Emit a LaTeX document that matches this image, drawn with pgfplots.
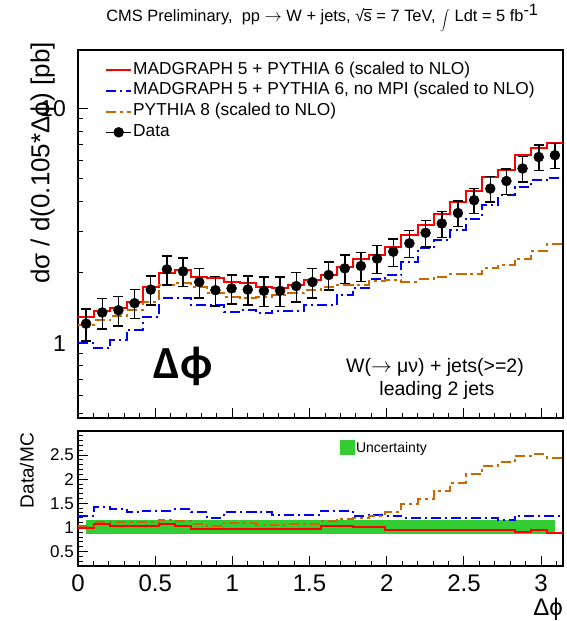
\documentclass[border=0pt]{standalone}
\usepackage{pgfplots}
\pgfplotsset{compat=1.18}
\usepackage{fontspec}
\setmainfont{Liberation Sans}
\newfontfamily\calib{Carlito}
\definecolor{rootorange}{RGB}{204,102,0}
\definecolor{rootgreen}{RGB}{51,204,51}
\definecolor{rootblue}{RGB}{0,0,255}
\definecolor{rootred}{RGB}{255,0,0}
\begin{document}
\begin{tikzpicture}[x=1pt,y=1pt]
\path[use as bounding box] (0,0) rectangle (566,-621);
\node[font=\fontsize{16.4}{16.4}\selectfont, inner sep=0pt, anchor=base] at (322.5,-21.5) {CMS Preliminary,\ \ pp $\rightarrow$ W + jets, √\kern-0.6pt\rlap{\raisebox{11.2pt}{\rule{8pt}{0.8pt}}}s = 7 TeV, \raisebox{-1pt}{\fontsize{8}{8}\selectfont$\displaystyle\int$} Ldt = 5 fb$^{\mbox{-1}}$};
\begin{axis}[
  at={(78pt,-50pt)}, anchor=north west,
  scale only axis, width=485pt, height=368pt,
  ymode=log, xmin=0, xmax=3.14159, ymin=0.48, ymax=17.7,
  xtick={0,0.5,1,1.5,2,2.5,3}, xticklabels={},
  minor xtick={0.1,0.2,0.3,0.4,0.6,0.7,0.8,0.9,1.1,1.2,1.3,1.4,1.6,1.7,1.8,1.9,2.1,2.2,2.3,2.4,2.6,2.7,2.8,2.9,3.1},
  ytick={1,10}, yticklabels={1,10},
  minor ytick={0.5,0.6,0.7,0.8,0.9,2,3,4,5,6,7,8,9},
  tick pos=left, tick align=inside,
  major tick length=10pt, minor tick length=5pt,
  every tick/.style={black, line width=1pt},
  axis line style={line width=1.3pt, black},
  /pgf/number format/assume math mode=true,
  yticklabel style={font=\fontsize{23}{23}\selectfont, inner sep=0pt, xshift=-12pt},
  ylabel={dσ / d(0.105*Δϕ) [pb]},
  ylabel style={font=\fontsize{26}{26}\selectfont, inner sep=0pt, at={(rel axis cs:-0.0474,1.0217)}, anchor=south east},
  legend style={draw=none, fill=none, at={(rel axis cs:0,1)}, anchor=north west, xshift=27pt, yshift=-11pt, inner sep=0pt, row sep=2.7pt,
    font=\fontsize{17.3}{17.3}\selectfont, nodes={inner sep=1pt, text height=12pt, text depth=4pt}},
  legend cell align=left,
  legend image code/.code={\draw[#1] (0pt,0pt) -- (25pt,0pt);},
  legend image post style={xshift=-3pt},
]
\addplot[const plot mark left, rootred, line width=2pt] coordinates {(0,1.29) (0.1047,1.37) (0.2094,1.405) (0.3142,1.50) (0.4189,1.74) (0.5236,1.98) (0.6283,2.04) (0.7330,1.92) (0.8378,1.885) (0.9425,1.82) (1.0472,1.80) (1.1519,1.74) (1.2566,1.72) (1.3614,1.76) (1.4661,1.85) (1.5708,1.95) (1.6755,2.11) (1.7802,2.29) (1.8850,2.37) (1.9897,2.57) (2.0944,2.90) (2.1991,3.18) (2.3038,3.53) (2.4086,3.99) (2.5133,4.45) (2.6180,5.08) (2.7227,5.48) (2.8274,6.31) (2.9322,6.80) (3.0369,7.10) (3.1416,7.10)};
\addlegendentry{MADGRAPH 5 + PYTHIA 6 (scaled to NLO)}
\addplot[const plot mark left, rootblue, line width=2pt, dash pattern=on 10pt off 4pt on 2pt off 4pt] coordinates {(0,1.0) (0.1047,0.95) (0.2094,1.03) (0.3142,1.14) (0.4189,1.29) (0.5236,1.55) (0.6283,1.55) (0.7330,1.45) (0.8378,1.45) (0.9425,1.36) (1.0472,1.38) (1.1519,1.34) (1.2566,1.37) (1.3614,1.37) (1.4661,1.45) (1.5708,1.45) (1.6755,1.60) (1.7802,1.71) (1.8850,1.87) (1.9897,1.95) (2.0944,2.22) (2.1991,2.53) (2.3038,2.74) (2.4086,3.03) (2.5133,3.39) (2.6180,3.87) (2.7227,4.26) (2.8274,4.63) (2.9322,4.94) (3.0369,5.07) (3.1416,5.07)};
\addlegendentry{MADGRAPH 5 + PYTHIA 6, no MPI (scaled to NLO)}
\addplot[const plot mark left, rootorange, line width=2pt, dash pattern=on 10pt off 4pt on 3pt off 4pt] coordinates {(0,1.20) (0.1047,1.25) (0.2094,1.30) (0.3142,1.38) (0.4189,1.50) (0.5236,1.76) (0.6283,1.81) (0.7330,1.74) (0.8378,1.63) (0.9425,1.57) (1.0472,1.55) (1.1519,1.57) (1.2566,1.60) (1.3614,1.64) (1.4661,1.68) (1.5708,1.73) (1.6755,1.76) (1.7802,1.76) (1.8850,1.84) (1.9897,1.85) (2.0944,1.83) (2.1991,1.87) (2.3038,1.92) (2.4086,1.96) (2.5133,1.96) (2.6180,2.08) (2.7227,2.16) (2.8274,2.29) (2.9322,2.46) (3.0369,2.63) (3.1416,2.63)};
\addlegendentry{PYTHIA 8 (scaled to NLO)}
\addplot[only marks, mark=*, mark size=5pt, black,
  error bars/.cd, y dir=both, y explicit,
  error bar style={line width=1.5pt, black},
  error mark options={rotate=90, black, mark size=5pt, line width=1.5pt},
  /pgfplots/legend image code/.code={\draw[black, line width=1.5pt] (0pt,0pt) -- (25pt,0pt); \fill[black] (12.5pt,0pt) circle (5pt);}]
coordinates {(0.0524,1.21) +- (0,0.19) (0.1571,1.35) +- (0,0.20) (0.2618,1.38) +- (0,0.20) (0.3665,1.48) +- (0,0.21) (0.4712,1.69) +- (0,0.24) (0.5760,2.06) +- (0,0.29) (0.6807,2.02) +- (0,0.28) (0.7854,1.82) +- (0,0.26) (0.8901,1.68) +- (0,0.24) (0.9948,1.71) +- (0,0.24) (1.0996,1.69) +- (0,0.24) (1.2043,1.67) +- (0,0.24) (1.3090,1.67) +- (0,0.24) (1.4137,1.75) +- (0,0.25) (1.5184,1.82) +- (0,0.26) (1.6232,1.95) +- (0,0.27) (1.7279,2.08) +- (0,0.29) (1.8326,2.13) +- (0,0.30) (1.9373,2.29) +- (0,0.31) (2.0420,2.45) +- (0,0.33) (2.1468,2.66) +- (0,0.35) (2.2515,2.95) +- (0,0.38) (2.3562,3.23) +- (0,0.41) (2.4609,3.58) +- (0,0.45) (2.5656,4.06) +- (0,0.50) (2.6704,4.55) +- (0,0.56) (2.7751,4.90) +- (0,0.60) (2.8798,5.54) +- (0,0.68) (2.9845,6.20) +- (0,0.76) (3.0892,6.31) +- (0,0.78)};
\addlegendentry{Data}
\node[font=\fontsize{19.5}{19.5}\selectfont, anchor=center] at (rel axis cs:0.736,0.138) {W($\rightarrow$ μν) + jets(>=2)};
\node[font=\fontsize{19.5}{19.5}\selectfont, anchor=center] at (rel axis cs:0.740,0.074) {leading 2 jets};
\node[font=\calib\bfseries\fontsize{46}{46}\selectfont, anchor=center] at (rel axis cs:0.2165,0.139) {Δϕ};
\end{axis}
\begin{axis}[
  at={(78pt,-431pt)}, anchor=north west,
  scale only axis, width=485pt, height=135pt,
  xmin=0, xmax=3.14159, ymin=0.2, ymax=3,
  xtick={0,0.5,1,1.5,2,2.5,3},
  minor xtick={0.1,0.2,0.3,0.4,0.6,0.7,0.8,0.9,1.1,1.2,1.3,1.4,1.6,1.7,1.8,1.9,2.1,2.2,2.3,2.4,2.6,2.7,2.8,2.9,3.1},
  ytick={0.5,1,1.5,2,2.5},
  minor ytick={0.3,0.4,0.6,0.7,0.8,0.9,1.1,1.2,1.3,1.4,1.6,1.7,1.8,1.9,2.1,2.2,2.3,2.4,2.6,2.7,2.8,2.9},
  tick pos=left, tick align=inside,
  major tick length=10pt, minor tick length=5pt,
  every tick/.style={black, line width=1pt},
  axis line style={line width=1.3pt, black},
  /pgf/number format/assume math mode=true,
  xticklabel style={font=\fontsize{24}{24}\selectfont, inner sep=0pt, yshift=-9pt},
  yticklabel style={font=\fontsize{17}{17}\selectfont, inner sep=0pt, xshift=-4pt},
  ylabel={Data/MC},
  ylabel style={font=\fontsize{19}{19}\selectfont, inner sep=0pt, at={(rel axis cs:-0.0907,0.985)}, anchor=south east},
  xlabel={Δϕ},
  xlabel style={font=\fontsize{24}{24}\selectfont, inner sep=0pt, at={(rel axis cs:1,0)}, anchor=north east, yshift=-32pt},
  legend style={draw=none, fill=none, at={(rel axis cs:0.540,0.933)}, anchor=north west, inner sep=0pt,
    font=\fontsize{14}{14}\selectfont, nodes={inner sep=1pt}},
  legend image code/.code={\fill[#1] (0pt,-7.5pt) rectangle (15pt,7.5pt);},
]
\addplot[fill=rootgreen, draw=none] coordinates {(0.0524,0.87) (3.0892,0.87) (3.0892,1.16) (0.0524,1.16)} -- cycle;
\addlegendentry{Uncertainty}
\addplot[const plot mark left, rootred, line width=2pt, forget plot] coordinates {(0,0.99) (0.1047,1.08) (0.2094,1.02) (0.3142,1.02) (0.4189,1.02) (0.5236,1.07) (0.6283,1.02) (0.7330,0.97) (0.8378,0.97) (0.9425,0.97) (1.0472,0.97) (1.1519,0.97) (1.2566,0.97) (1.3614,0.97) (1.4661,0.97) (1.5708,1.02) (1.6755,1.02) (1.7802,1.0) (1.8850,1.0) (1.9897,0.95) (2.0944,0.95) (2.1991,0.95) (2.3038,0.95) (2.4086,0.95) (2.5133,0.95) (2.6180,0.95) (2.7227,0.95) (2.8274,0.905) (2.9322,0.95) (3.0369,0.885) (3.1416,0.885)};
\addplot[const plot mark left, rootblue, line width=2pt, dash pattern=on 10pt off 4pt on 2pt off 4pt, forget plot] coordinates {(0,1.245) (0.1047,1.43) (0.2094,1.38) (0.3142,1.31) (0.4189,1.35) (0.5236,1.35) (0.6283,1.38) (0.7330,1.31) (0.8378,1.20) (0.9425,1.31) (1.0472,1.31) (1.1519,1.31) (1.2566,1.26) (1.3614,1.26) (1.4661,1.26) (1.5708,1.35) (1.6755,1.35) (1.7802,1.245) (1.8850,1.26) (1.9897,1.245) (2.0944,1.20) (2.1991,1.20) (2.3038,1.20) (2.4086,1.20) (2.5133,1.20) (2.6180,1.20) (2.7227,1.16) (2.8274,1.245) (2.9322,1.245) (3.0369,1.245) (3.1416,1.245)};
\addplot[const plot mark left, rootorange, line width=2pt, dash pattern=on 10pt off 4pt on 3pt off 4pt, forget plot] coordinates {(0,1.02) (0.1047,1.11) (0.2094,1.11) (0.3142,1.11) (0.4189,1.11) (0.5236,1.16) (0.6283,1.14) (0.7330,1.08) (0.8378,1.02) (0.9425,1.09) (1.0472,1.09) (1.1519,1.06) (1.2566,1.05) (1.3614,1.07) (1.4661,1.08) (1.5708,1.13) (1.6755,1.18) (1.7802,1.20) (1.8850,1.24) (1.9897,1.32) (2.0944,1.48) (2.1991,1.585) (2.3038,1.755) (2.4086,1.92) (2.5133,2.10) (2.6180,2.27) (2.7227,2.35) (2.8274,2.49) (2.9322,2.52) (3.0369,2.45) (3.1416,2.45)};
\end{axis}
\end{tikzpicture}
\end{document}
